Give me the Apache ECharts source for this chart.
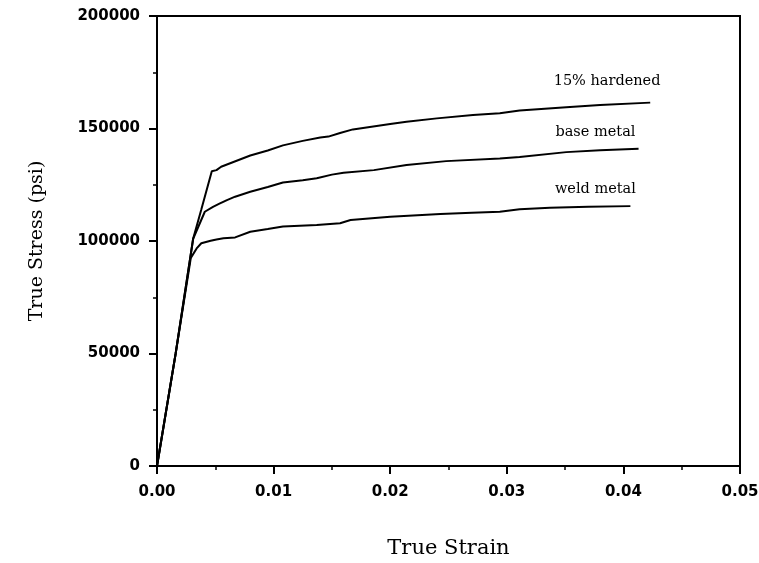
<!DOCTYPE html>
<html>
<head>
<meta charset="utf-8">
<script src="https://cdn.jsdelivr.net/npm/echarts@6/dist/echarts.min.js"></script>
<style>
html,body{margin:0;padding:0;background:#fff;}
#chart{width:759px;height:563px;}
</style>
</head>
<body>
<div id="chart"></div>
<script>
// ---- data ----
var xTicks = [0, 0.01, 0.02, 0.03, 0.04, 0.05];
var yTicks = [0, 50000, 100000, 150000, 200000];

var hardenedName = '15% hardened';
var hardenedStrain = [0, 0.0016, 0.0031, 0.0038, 0.0047, 0.0051, 0.0055, 0.0065, 0.0080, 0.0095, 0.0108, 0.0125, 0.0140, 0.0147, 0.0157, 0.0168, 0.0200, 0.0214, 0.0240, 0.0271, 0.0294, 0.0311, 0.0351, 0.0380, 0.0423];
var hardenedStress = [0, 50000, 101000, 114000, 131000, 131500, 133000, 135000, 138000, 140200, 142500, 144500, 146000, 146400, 148000, 149600, 152000, 153000, 154500, 156000, 156800, 158000, 159400, 160400, 161500];

var baseName = 'base metal';
var baseStrain = [0, 0.0016, 0.0031, 0.0041, 0.0048, 0.0054, 0.0060, 0.0067, 0.0080, 0.0095, 0.0108, 0.0125, 0.0137, 0.0150, 0.0160, 0.0186, 0.0214, 0.0248, 0.0294, 0.0311, 0.0351, 0.0380, 0.0413];
var baseStress = [0, 50000, 101000, 113000, 115200, 116700, 118200, 119700, 121900, 124000, 126000, 127000, 127900, 129500, 130300, 131500, 133800, 135500, 136700, 137300, 139500, 140300, 141000];

var weldName = 'weld metal';
var weldStrain = [0, 0.0016, 0.0029, 0.0034, 0.0038, 0.0046, 0.0051, 0.0057, 0.0067, 0.0080, 0.0095, 0.0108, 0.0137, 0.0157, 0.0166, 0.0200, 0.0243, 0.0270, 0.0294, 0.0311, 0.0337, 0.0370, 0.0406];
var weldStress = [0, 50000, 92500, 96700, 99000, 100100, 100700, 101200, 101600, 104100, 105300, 106400, 107100, 107900, 109300, 110800, 112000, 112600, 113000, 114100, 114800, 115200, 115500];

// label anchor positions (data space)
var labelAt = {
  '15% hardened': [0.0386, 171000],
  'base metal': [0.0376, 148400],
  'weld metal': [0.0376, 123100]
};

function pairs(xs, ys){ return xs.map(function(x,i){ return [x, ys[i]]; }); }

function makeSeries(name, xs, ys){
  return {
    name: name,
    type: 'line',
    data: pairs(xs, ys),
    showSymbol: false,
    symbol: 'none',
    lineStyle: {color:'#000', width:2},
    animation: false,
    markPoint: {
      symbol: 'circle', symbolSize: 0,
      label: {show:true, position:'inside', formatter: name, color:'#000',
        fontFamily:'DejaVu Serif', fontSize:14.5},
      data: [{coord: labelAt[name]}]
    }
  };
}

var chart = echarts.init(document.getElementById('chart'), null, {renderer:'canvas'});
chart.setOption({
  backgroundColor:'#fff',
  animation:false,
  grid:{left:157, right:19, top:16, bottom:97, containLabel:false, outerBoundsMode:'none',
    show:true, borderColor:'#000', borderWidth:2, backgroundColor:'transparent'},
  xAxis:{
    type:'value', min:xTicks[0], max:xTicks[xTicks.length-1], interval:0.01,
    name:'True Strain', nameLocation:'middle', nameGap:72,
    nameTextStyle:{fontFamily:'DejaVu Serif', fontSize:21, color:'#000'},
    axisLine:{show:true, onZero:false, lineStyle:{color:'#000', width:2}},
    axisTick:{show:true, length:8, lineStyle:{color:'#000', width:2}},
    minorTick:{show:true, splitNumber:2, length:4, lineStyle:{color:'#000', width:1.5}},
    splitLine:{show:false},
    axisLabel:{margin:19, color:'#000', fontFamily:'DejaVu Sans', fontWeight:'bold', fontSize:15,
      formatter:function(v){ return v.toFixed(2); }}
  },
  yAxis:{
    type:'value', min:yTicks[0], max:yTicks[yTicks.length-1], interval:50000,
    name:'True Stress (psi)', nameLocation:'middle', nameGap:110, nameRotate:90,
    nameTextStyle:{fontFamily:'DejaVu Serif', fontSize:19, color:'#000'},
    axisLine:{show:true, onZero:false, lineStyle:{color:'#000', width:2}},
    axisTick:{show:true, length:8, lineStyle:{color:'#000', width:2}},
    minorTick:{show:true, splitNumber:2, length:4, lineStyle:{color:'#000', width:1.5}},
    splitLine:{show:false},
    axisLabel:{margin:17, color:'#000', fontFamily:'DejaVu Sans', fontWeight:'bold', fontSize:15,
      formatter:function(v){ return String(v); }}
  },
  series:[
    makeSeries(hardenedName, hardenedStrain, hardenedStress),
    makeSeries(baseName, baseStrain, baseStress),
    makeSeries(weldName, weldStrain, weldStress)
  ]
});
</script>
</body>
</html>
